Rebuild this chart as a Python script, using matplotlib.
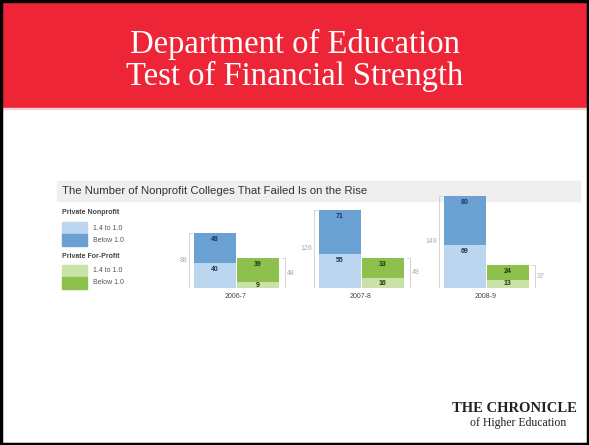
import matplotlib.pyplot as plt
from matplotlib.patches import Rectangle

# Data
years = ['2006-7', '2007-8', '2008-9']
nonprofit_mid = [40, 55, 69]     # 1.4 to 1.0
nonprofit_low = [48, 71, 80]     # Below 1.0
forprofit_mid = [9, 16, 13]
forprofit_low = [39, 33, 24]

light_blue = '#bcd6ef'
dark_blue = '#6aa0d2'
light_green = '#c8e2a8'
dark_green = '#8dc04c'
red = '#ee2536'

W, H = 589, 445
fig = plt.figure(figsize=(W / 100, H / 100), dpi=100)
fig.patch.set_facecolor('white')

# pixel-coordinate canvas for slide decorations
bg = fig.add_axes([0, 0, 1, 1])
bg.set_xlim(0, W)
bg.set_ylim(H, 0)
bg.axis('off')

bg.add_patch(Rectangle((0, 0), W, 108, color=red, zorder=1))
bg.add_patch(Rectangle((0, 108), W, 1.2, color='#f2d4d6', zorder=1))
bg.add_patch(Rectangle((1, 1), W - 2, H - 2, fill=False, ec='black', lw=2.5, zorder=5))
bg.text(W / 2, 44, 'Department of Education', color='white', fontsize=23.5,
        family='Liberation Serif', ha='center', va='center')
bg.text(W / 2, 76, 'Test of Financial Strength', color='white', fontsize=23.5,
        family='Liberation Serif', ha='center', va='center')

# chart title band
bg.add_patch(Rectangle((57, 181), 523, 20, color='#efefef', zorder=1))
bg.text(62, 191, 'The Number of Nonprofit Colleges That Failed Is on the Rise',
        fontsize=8.2, color='#333333', family='Liberation Sans', va='center')

# legend
leg = [('Private Nonprofit', 213, light_blue, dark_blue),
       ('Private For-Profit', 256, light_green, dark_green)]
for title, y0, c1, c2 in leg:
    bg.text(62, y0, title, fontsize=5, fontweight='bold', color='#444444',
            family='Liberation Sans', va='center')
    bg.add_patch(Rectangle((62, y0 + 9), 25, 12, color=c1))
    bg.add_patch(Rectangle((62, y0 + 21), 25, 12, color=c2))
    bg.text(93, y0 + 15, '1.4 to 1.0', fontsize=5, color='#555555',
            family='Liberation Sans', va='center')
    bg.text(93, y0 + 27, 'Below 1.0', fontsize=5, color='#555555',
            family='Liberation Sans', va='center')

# logo
bg.text(514, 409, 'THE CHRONICLE', fontsize=10.5, fontweight='bold', color='#222222',
        family='Liberation Serif', ha='center', va='center')
bg.text(518, 423, 'of Higher Education', fontsize=8.5, color='#222222',
        family='Liberation Serif', ha='center', va='center')

# bar chart
x0_px, x1_px = 173.5, 548.5
base_px = 288
scale = 0.62  # px per unit
ymax = 160
ax = fig.add_axes([x0_px / W, (H - base_px) / H, (x1_px - x0_px) / W, ymax * scale / H])
ax.set_xlim(-0.5, 2.5)
ax.set_ylim(0, ymax)
ax.axis('off')

bw = 0.336
off = 0.172
px_y = 1 / scale          # one pixel in data units (y)
px_x = 3 / (x1_px - x0_px)  # one pixel in data units (x)

def seg_label(x, bottom, h, val, color):
    top = bottom + h
    y = top - min(6.5 * px_y, h / 2)
    ax.text(x, y, str(val), fontsize=5, fontweight='bold', color=color,
            ha='center', va='center', family='Liberation Sans')

for i, yr in enumerate(years):
    xn = i - off
    xf = i + off
    ax.bar(xn, nonprofit_mid[i], bw, color=light_blue)
    ax.bar(xn, nonprofit_low[i], bw, bottom=nonprofit_mid[i], color=dark_blue)
    ax.bar(xf, forprofit_mid[i], bw, color=light_green)
    ax.bar(xf, forprofit_low[i], bw, bottom=forprofit_mid[i], color=dark_green)

    seg_label(xn, 0, nonprofit_mid[i], nonprofit_mid[i], '#1d3557')
    seg_label(xn, nonprofit_mid[i], nonprofit_low[i], nonprofit_low[i], '#1d3557')
    seg_label(xf, 0, forprofit_mid[i], forprofit_mid[i], '#223311')
    seg_label(xf, forprofit_mid[i], forprofit_low[i], forprofit_low[i], '#223311')

    # total brackets
    tn = nonprofit_mid[i] + nonprofit_low[i]
    tf = forprofit_mid[i] + forprofit_low[i]
    bx = xn - bw / 2 - 5 * px_x
    ax.plot([bx + 3 * px_x, bx, bx, bx + 3 * px_x], [0, 0, tn, tn],
            color='#cccccc', lw=0.6)
    ax.text(bx - 1.5 * px_x, tn / 2, str(tn), fontsize=5, color='#aaaaaa',
            ha='right', va='center', family='Liberation Sans')
    bx = xf + bw / 2 + 6 * px_x
    ax.plot([bx - 3 * px_x, bx, bx, bx - 3 * px_x], [0, 0, tf, tf],
            color='#cccccc', lw=0.6)
    ax.text(bx + 2 * px_x, tf / 2, str(tf), fontsize=5, color='#aaaaaa',
            ha='left', va='center', family='Liberation Sans')

    ax.text(i, -9 * px_y, yr, fontsize=5, color='#444444', ha='center', va='center',
            family='Liberation Sans', clip_on=False)

fig.savefig('out.png', dpi=100)
